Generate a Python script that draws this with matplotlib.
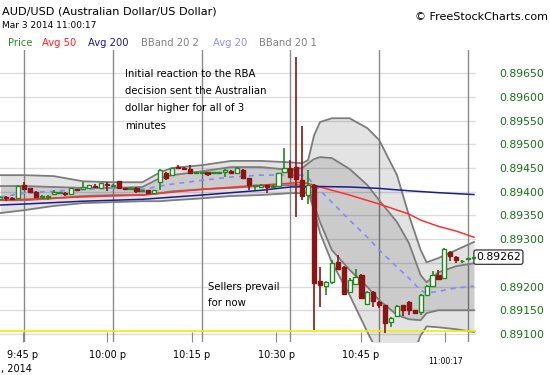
import matplotlib
matplotlib.use("Agg")
import matplotlib.pyplot as plt
import numpy as np

# one-minute candles, minutes counted from 9:45 pm
minutes = list(range(-4, 77))
opens = [.89384, .89388, .89387, .89386, .89415, .89407, .89400, .89388, .89389, .89396,
         .89397, .89398, .89396, .89405, .89405, .89408, .89413, .89408, .89416, .89413,
         .89422, .89407, .89406, .89408, .89402, .89403, .89398, .89421, .89439, .89435,
         .89453, .89450, .89447, .89439, .89440, .89441, .89440, .89440, .89441, .89444,
         .89439, .89446, .89428, .89412, .89409, .89414, .89411, .89412, .89442, .89449,
         .89453, .89424, .89393, .89415, .89211, .89202, .89210, .89252, .89242, .89189,
         .89206, .89224, .89163, .89189, .89167, .89161, .89126, .89138, .89161, .89168,
         .89150, .89147, .89182, .89201, .89224, .89217, .89272, .89263, .89253, .89259,
         .89261]
highs = [.89391, .89392, .89388, .89414, .89421, .89408, .89401, .89393, .89393, .89403,
         .89400, .89399, .89408, .89406, .89421, .89415, .89417, .89419, .89421, .89416,
         .89423, .89408, .89409, .89409, .89404, .89404, .89404, .89447, .89441, .89451,
         .89456, .89452, .89456, .89442, .89442, .89442, .89442, .89442, .89447, .89446,
         .89452, .89447, .89429, .89414, .89416, .89415, .89414, .89440, .89493, .89467,
         .89684, .89538, .89446, .89416, .89242, .89212, .89255, .89266, .89244, .89217,
         .89238, .89226, .89190, .89191, .89169, .89162, .89135, .89161, .89162, .89170,
         .89151, .89184, .89203, .89232, .89235, .89281, .89274, .89264, .89255, .89261,
         .89263]
lows = [.89382, .89380, .89383, .89385, .89404, .89399, .89388, .89385, .89382, .89395,
        .89396, .89392, .89395, .89402, .89404, .89407, .89409, .89407, .89402, .89412,
        .89407, .89405, .89405, .89398, .89401, .89397, .89397, .89403, .89425, .89434,
        .89448, .89446, .89438, .89438, .89439, .89434, .89439, .89439, .89431, .89438,
        .89438, .89427, .89403, .89404, .89408, .89398, .89410, .89411, .89440, .89430,
        .89347, .89382, .89375, .89108, .89157, .89182, .89205, .89236, .89182, .89186,
        .89204, .89174, .89160, .89157, .89155, .89102, .89114, .89136, .89137, .89140,
        .89144, .89140, .89180, .89200, .89215, .89216, .89254, .89249, .89249, .89259,
        .89261]
closes = [.89389, .89386, .89384, .89412, .89405, .89400, .89389, .89391, .89392, .89399,
          .89399, .89395, .89407, .89403, .89410, .89414, .89410, .89418, .89414, .89415,
          .89408, .89406, .89408, .89402, .89403, .89398, .89403, .89446, .89428, .89450,
          .89449, .89447, .89439, .89441, .89441, .89437, .89441, .89441, .89446, .89439,
          .89449, .89428, .89415, .89413, .89415, .89409, .89413, .89439, .89451, .89431,
          .89426, .89391, .89414, .89207, .89203, .89209, .89249, .89238, .89184, .89213,
          .89220, .89176, .89188, .89170, .89162, .89124, .89133, .89159, .89150, .89150,
          .89145, .89182, .89201, .89224, .89216, .89279, .89264, .89256, .89254, .89260,
          .89262]

# bollinger bands and 20 avg, read at these minutes
band_min = [-4, 0, 5, 10, 15, 20, 23, 25, 30, 35, 40, 45, 47, 48, 49, 50, 52, 55, 58, 60,
            63, 65, 67, 68, 70, 73, 76]
bb2_upper = [.89435, .89435, .89433, .89422, .89420, .89420, .89441, .89450, .89456, .89465,
             .89465, .89462, .89460, .89467, .89519, .89547, .89555, .89555, .89534, .89509,
             .89435, .89351, .89277, .89251, .89260, .89277, .89294]
bb1_upper = [.89412, .89412, .89410, .89408, .89408, .89410, .89429, .89435, .89443, .89452,
             .89452, .89446, .89450, .89460, .89469, .89473, .89471, .89448, .89414, .89382,
             .89336, .89292, .89224, .89209, .89230, .89243, .89249]
bb1_lower = [.89382, .89382, .89386, .89391, .89393, .89393, .89397, .89401, .89405, .89408,
             .89412, .89414, .89414, .89408, .89372, .89336, .89277, .89235, .89199, .89171,
             .89140, .89131, .89129, .89144, .89150, .89150, .89150]
bb2_lower = [.89355, .89361, .89370, .89376, .89378, .89380, .89380, .89382, .89386, .89391,
             .89393, .89397, .89397, .89399, .89361, .89313, .89251, .89182, .89104, .89055,
             .89024, .89034, .89097, .89116, .89114, .89110, .89104]
avg20 = [.89389, .89397, .89401, .89405, .89408, .89405, .89412, .89416, .89424, .89431,
         .89435, .89435, .89435, .89429, .89416, .89403, .89378, .89340, .89304, .89277,
         .89241, .89218, .89192, .89186, .89190, .89197, .89201]

avg200_min = [-4, 0, 10, 20, 30, 40, 45, 50, 55, 60, 65, 70, 76]
avg200 = [.89372, .89374, .89380, .89384, .89393, .89403, .89410, .89411, .89410, .89407,
          .89402, .89398, .89394]
avg50_min = [-4, 0, 10, 20, 30, 40, 45, 47, 49, 50, 55, 60, 65, 67, 70, 73, 76]
avg50 = [.89382, .89384, .89389, .89393, .89405, .89414, .89418, .89420, .89414, .89410,
         .89393, .89374, .89353, .89340, .89327, .89317, .89304]

day_low = 0.89106
last_price = 0.89262
price_ticks = [0.8910, 0.8915, 0.8920, 0.8925, 0.8930, 0.8935, 0.8940, 0.8945, 0.8950,
               0.8955, 0.8960, 0.8965]
time_ticks = [0, 15, 30, 45, 60, 75]
time_labels = ['9:45 p', '10:00 p', '10:15 p', '10:30 p', '10:45 p', '']

fig = plt.figure(figsize=(5.5, 3.75), dpi=100)
ax = fig.add_axes([0, 0.088, 0.8655, 0.7787])
ax.set_xlim(-4.05, 76.35)
ax.set_ylim(0.89083, 0.89699)
for s in ax.spines.values():
    s.set_visible(False)

# grid
for p in price_ticks:
    ax.axhline(p, color='#dcdcdc', lw=1, zorder=0)
for t in time_ticks:
    ax.axvline(t, color='#8a8a8a', lw=1, zorder=0)

# bands
ax.fill_between(band_min, bb2_lower, bb2_upper, color='black', alpha=0.11, lw=0, zorder=1)
ax.fill_between(band_min, bb1_lower, bb1_upper, color='black', alpha=0.10, lw=0, zorder=1)
for b in (bb2_upper, bb2_lower, bb1_upper, bb1_lower):
    ax.plot(band_min, b, color='#7c7c7c', lw=1.3, zorder=2)
ax.plot(band_min, avg20, color='#8888ff', lw=1.2, dashes=(3, 3), zorder=2)
ax.plot(avg50_min, avg50, color='#ff3030', lw=1.1, zorder=2)
ax.plot(avg200_min, avg200, color='#1c1c8c', lw=1.1, zorder=2)
ax.axhline(day_low, color='#eeee00', lw=1.2, zorder=2)

# candles
o = np.array(opens)
c = np.array(closes)
up = c >= o
col = np.where(up, '#1f8a1f', '#8b1515')
ax.vlines(minutes, lows, highs, colors=col, lw=1.2, zorder=3)
bottom = np.minimum(o, c)
height = np.maximum(np.abs(c - o), 0.000015)
ax.bar(minutes, height, bottom=bottom, width=0.7,
       color=np.where(up, 'white', '#8b1515'), edgecolor=col, lw=1, zorder=4)

# right price axis
ax.yaxis.tick_right()
ax.set_yticks(price_ticks)
ax.set_yticklabels(['' if abs(p - 0.8925) < 1e-6 else f'{p:.5f}' for p in price_ticks])
ax.tick_params(axis='y', length=0, pad=16.5, labelsize=7.8, labelcolor='#137013')
ax.text(1.0, last_price, f'{last_price:.5f}', transform=ax.get_yaxis_transform(),
        ha='left', va='center', fontsize=7.8, color='black',
        bbox=dict(boxstyle='round,pad=0.2', fc='white', ec='#333333', lw=0.9))

# time axis (labels sit on a slightly narrower scale than the grid)
ax.set_xticks(time_ticks)
ax.tick_params(axis='x', bottom=False, labelbottom=False)


def to_lab(m):
    return (m + 0.17) * 15 / 14.27


def from_lab(v):
    return v * 14.27 / 15 - 0.17


sec = ax.secondary_xaxis('bottom', functions=(to_lab, from_lab))
sec.set_xticks(time_ticks)
sec.set_xticklabels(time_labels)
sec.tick_params(direction='in', length=7, color='#888888', labelsize=7, pad=5.5,
                labelcolor='black')
sec.spines['bottom'].set_visible(False)
ax.text(from_lab(75), -0.068, '11:00:17', transform=ax.get_xaxis_transform(),
        ha='center', va='center', fontsize=5.6)
fig.text(1 / 550, 1 - 369 / 375, ', 2014', ha='left', va='center', fontsize=7)

# headers
fig.text(2 / 550, 1 - 12 / 375, 'AUD/USD (Australian Dollar/US Dollar)', ha='left',
         va='center', fontsize=8.1)
fig.text(2 / 550, 1 - 25 / 375, 'Mar 3 2014 11:00:17', ha='left', va='center', fontsize=6.5)
fig.text(548 / 550, 1 - 17 / 375, '\u00a9 FreeStockCharts.com', ha='right', va='center',
         fontsize=8.0)
legend_items = [('Price', '#2a8a2a', 8), ('Avg 50', '#ff2020', 42), ('Avg 200', '#1c1c8c', 88),
                ('BBand 20 2', '#808080', 141), ('Avg 20', '#8c8cff', 213),
                ('BBand 20 1', '#808080', 259)]
for name, color, px in legend_items:
    fig.text(px / 550, 1 - 43 / 375, name, color=color, ha='left', va='center', fontsize=7.2)

# notes
ax.text(0.262, 0.935, 'Initial reaction to the RBA\ndecision sent the Australian\n'
        'dollar higher for all of 3\nminutes', transform=ax.transAxes, ha='left', va='top',
        fontsize=7.3, linespacing=1.9)
ax.text(0.437, 0.206, 'Sellers prevail\nfor now', transform=ax.transAxes, ha='left',
        va='top', fontsize=7.3, linespacing=1.75)

fig.savefig('out.png', dpi=100)
